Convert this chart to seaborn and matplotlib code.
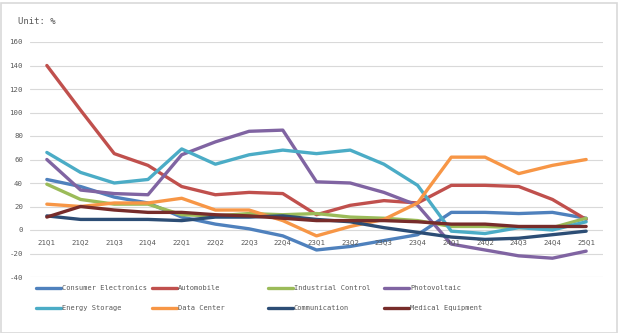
import matplotlib
matplotlib.use("Agg")
import matplotlib.pyplot as plt
import seaborn as sns
import pandas as pd
from matplotlib.lines import Line2D
from matplotlib.patches import Rectangle
import matplotlib.transforms as mtransforms

quarters = ["21Q1", "21Q2", "21Q3", "21Q4", "22Q1", "22Q2", "22Q3", "22Q4",
            "23Q1", "23Q2", "23Q3", "23Q4", "24Q1", "24Q2", "24Q3", "24Q4", "25Q1"]

consumer_electronics = [43, 37, 28, 23, 11, 5, 1, -5, -17, -14, -9, -4, 15, 15, 14, 15, 10]
automobile = [140, 102, 65, 55, 37, 30, 32, 31, 13, 21, 25, 23, 38, 38, 37, 26, 9]
industrial_control = [39, 26, 22, 22, 13, 12, 14, 13, 14, 11, 10, 8, 3, 3, 2, 2, 10]
photovoltaic = [60, 34, 31, 30, 64, 75, 84, 85, 41, 40, 32, 21, -12, -17, -22, -24, -18]
energy_storage = [66, 49, 40, 43, 69, 56, 64, 68, 65, 68, 56, 38, -1, -3, 2, 0, 7]
data_center = [22, 20, 23, 23, 27, 17, 17, 8, -5, 3, 9, 23, 62, 62, 48, 55, 60]
communication = [12, 9, 9, 9, 8, 11, 11, 12, 9, 7, 2, -2, -6, -8, -7, -4, -1]
medical_equipment = [11, 20, 17, 15, 15, 13, 12, 10, 8, 8, 8, 7, 5, 5, 3, 3, 3]

series_names = ["Consumer Electronics", "Automobile", "Industrial Control", "Photovoltaic",
                "Energy Storage", "Data Center", "Communication", "Medical Equipment"]
series_values = [consumer_electronics, automobile, industrial_control, photovoltaic,
                 energy_storage, data_center, communication, medical_equipment]
colors = ["#4F81BD", "#C0504D", "#9BBB59", "#8064A2",
          "#4BACC6", "#F79646", "#2C4D75", "#772C2A"]

y_ticks = [-40, -20, 0, 20, 40, 60, 80, 100, 120, 140, 160]

rows = []
for name, vals in zip(series_names, series_values):
    for q, v in zip(quarters, vals):
        rows.append({"quarter": q, "value": v, "series": name})
df = pd.DataFrame(rows)
df["x"] = df["quarter"].map({q: i for i, q in enumerate(quarters)})

sns.set_theme(style="white")
FONT = ["DejaVu Sans Mono"]
plt.rcParams["font.family"] = FONT
text_color = "#595959"

fig = plt.figure(figsize=(6.18, 3.33), dpi=100)
ax = fig.add_axes([30/618, 1 - 277/333, (603 - 30)/618, (277 - 42)/333])

sns.lineplot(data=df, x="x", y="value", hue="series", hue_order=series_names,
             palette=colors, sort=False, linewidth=2.4, legend=False, ax=ax)

ax.set_xlim(-0.5, len(quarters) - 0.5)
ax.set_ylim(-40, 160)
ax.set_yticks(y_ticks)
ax.set_yticklabels([str(t) for t in y_ticks], fontsize=5.3, color=text_color)
ax.tick_params(axis="y", length=0, pad=5)
ax.set_xticks([])
ax.set_xlabel("")
ax.set_ylabel("")
for s in ax.spines.values():
    s.set_visible(False)
ax.grid(axis="y", color="#D9D9D9", linewidth=0.8)
ax.set_axisbelow(True)

offset = mtransforms.ScaledTranslation(0, -12/100, fig.dpi_scale_trans)
for i, q in enumerate(quarters):
    ax.text(i, 0, q, transform=ax.transData + offset, ha="center", va="center",
            fontsize=5.3, color=text_color)

fig.text(18/618, 1 - 21/333, "Unit: %", fontsize=6.5, color=text_color,
         ha="left", va="center")

# legend
col_x = [36, 152, 268, 384]
row_y = [288, 308]
for k, (name, c) in enumerate(zip(series_names, colors)):
    r, cidx = divmod(k, 4)
    x0 = col_x[cidx]
    y0 = row_y[r]
    fig.add_artist(Line2D([x0/618, (x0 + 25)/618], [1 - y0/333, 1 - y0/333],
                          color=c, linewidth=2.4, transform=fig.transFigure))
    fig.text((x0 + 26)/618, 1 - y0/333, name, fontsize=5.0, color=text_color,
             ha="left", va="center")

fig.add_artist(Rectangle((0.5/618, 0.5/333), 616/618, 330/333, transform=fig.transFigure,
                         fill=False, edgecolor="#D9D9D9", linewidth=1.2))

fig.savefig("out.png", dpi=100, facecolor="white")
